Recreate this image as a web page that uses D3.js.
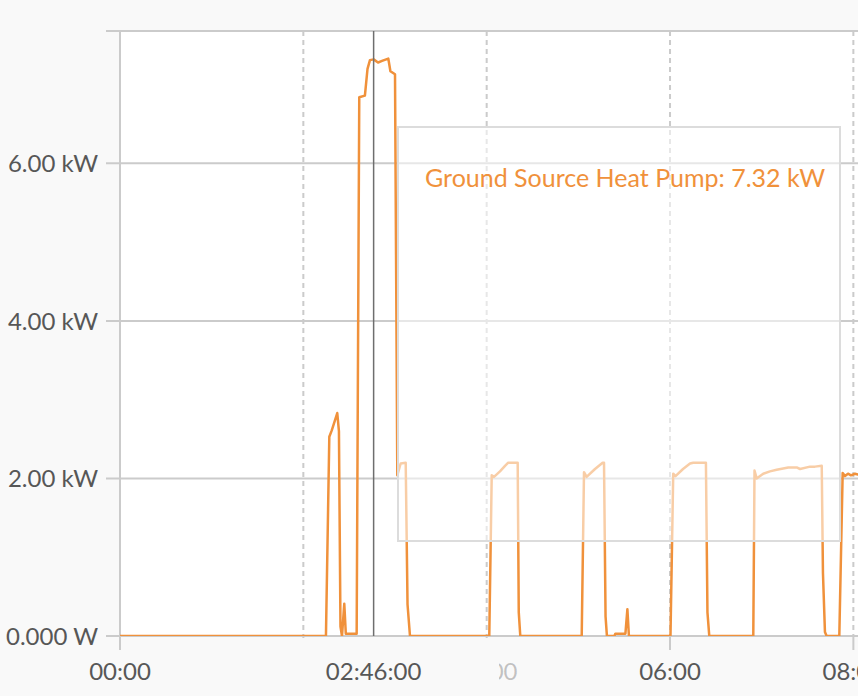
<!DOCTYPE html>
<html>
<head>
<meta charset="utf-8">
<script src="https://cdn.jsdelivr.net/npm/d3@7"></script>
<style>
  html, body { margin: 0; padding: 0; background: #f9f9f9; }
  svg { display: block; }
  text { font-family: "Lato", "Open Sans", sans-serif; }
</style>
</head>
<body>
<div id="chart"></div>
<script>
// ---- Data (minutes since 00:00, power in kW) ----
const times = [0, 134.8, 137.0, 138.6, 142.2, 143.3, 144.3, 145.3, 146.8, 147.8, 154.9, 156.6, 160.3, 162.0, 163.6, 166.0, 168.9, 171.5, 175.6, 177.0, 180.0, 181.5, 183.7, 187.0, 188.2, 189.8,
  241.7, 243.3, 244.8, 248.7, 252.0, 254.1, 260.3, 261.0, 262.0,
  302.2, 303.7, 305.4, 310.9, 315.9, 316.8, 317.8, 318.7,
  323.6, 324.2, 330.8, 332.1, 333.1,
  360.3, 362.1, 363.6, 368.5, 373.1, 375.2, 383.5, 384.5, 385.7,
  414.5, 415.3, 416.7, 421.0, 425.4, 429.8, 437.4, 442.9, 445.1, 451.6, 454.9, 459.3, 460.1, 461.4, 462.5,
  470.8, 473.0, 474.5, 476.5, 478.4, 481.1, 483.0, 487.6];
const values = [0, 0, 2.53, 2.61, 2.83, 2.6, 0.12, 0, 0.41, 0.03, 0.03, 6.84, 6.86, 7.2, 7.31, 7.32, 7.28, 7.3, 7.33, 7.17, 7.13, 2.04, 2.19, 2.2, 0.4, 0,
  0, 2.04, 2.02, 2.09, 2.16, 2.2, 2.2, 0.3, 0,
  0, 2.08, 2.02, 2.12, 2.2, 2.2, 0.25, 0,
  0, 0.03, 0.03, 0.34, 0,
  0, 2.06, 2.03, 2.12, 2.19, 2.2, 2.2, 0.3, 0,
  0, 2.1, 2.0, 2.06, 2.09, 2.11, 2.14, 2.14, 2.12, 2.15, 2.15, 2.16, 0.8, 0.05, 0,
  0, 2.07, 2.03, 2.06, 2.04, 2.06, 2.05, 2.07];

const yTickValues = [0, 2, 4, 6];
const yTickLabels = ["0.000 W", "2.00 kW", "4.00 kW", "6.00 kW"];
const xTickMinutes = [0, 120, 240, 360, 480];
const xTickLabels = ["00:00", "02:00", "04:00", "06:00", "08:00"];
const hoverMinute = 166;
const hoverLabel = "02:46:00";
const tooltipText = "Ground Source Heat Pump: 7.32 kW";

// ---- Layout ----
const W = 858, H = 696;
const plotLeft = 120, plotTop = 31, plotBottom = 636;
const orange = "#f0913b";
const gridCol = "#cbcbcb";
const labelCol = "#575757";

const x = d3.scaleLinear().domain([0, 510]).range([plotLeft, plotLeft + 8.5 * 91.67]);
const y = d3.scaleLinear().domain([0, 7.68]).range([plotBottom, plotTop]);

const svg = d3.select("#chart").append("svg").attr("width", W).attr("height", H);
svg.append("rect").attr("width", W).attr("height", H).attr("fill", "#f9f9f9");
svg.append("rect").attr("x", plotLeft).attr("y", plotTop).attr("width", W - plotLeft).attr("height", plotBottom - plotTop).attr("fill", "#ffffff");

svg.append("defs").append("clipPath").attr("id", "plotclip")
  .append("rect").attr("x", plotLeft).attr("y", plotTop - 5).attr("width", W - plotLeft).attr("height", plotBottom - plotTop + 5);

// vertical dashed grid
svg.append("g").selectAll("line").data(xTickMinutes.slice(1)).join("line")
  .attr("x1", d => x(d)).attr("x2", d => x(d)).attr("y1", plotTop).attr("y2", plotBottom)
  .attr("stroke", gridCol).attr("stroke-width", 2).attr("stroke-dasharray", "5,4");

// horizontal grid with left ticks
svg.append("g").selectAll("line").data(yTickValues).join("line")
  .attr("x1", 106).attr("x2", W).attr("y1", d => y(d)).attr("y2", d => y(d))
  .attr("stroke", gridCol).attr("stroke-width", 2);
// top frame
svg.append("line").attr("x1", 106).attr("x2", W).attr("y1", plotTop).attr("y2", plotTop)
  .attr("stroke", gridCol).attr("stroke-width", 2);
// left axis
svg.append("line").attr("x1", plotLeft).attr("x2", plotLeft).attr("y1", plotTop).attr("y2", 650)
  .attr("stroke", gridCol).attr("stroke-width", 2);
// bottom ticks
svg.append("g").selectAll("line").data(xTickMinutes.slice(1)).join("line")
  .attr("x1", d => x(d)).attr("x2", d => x(d)).attr("y1", plotBottom).attr("y2", 650)
  .attr("stroke", gridCol).attr("stroke-width", 2);

// y labels
svg.append("g").selectAll("text").data(yTickValues).join("text")
  .attr("x", 98).attr("y", d => y(d) + 9).attr("text-anchor", "end")
  .attr("font-size", 24).attr("fill", labelCol)
  .text((d, i) => yTickLabels[i]);

// x labels (the 02:00 label sits fully under the hover label, so it is not visible)
const xLabelIdx = xTickMinutes.map((d, i) => i).filter(i => xTickLabels[i] !== "02:00");
svg.append("g").selectAll("text").data(xLabelIdx).join("text")
  .attr("x", i => x(xTickMinutes[i])).attr("y", 680).attr("text-anchor", "middle")
  .attr("font-size", 24).attr("fill", labelCol)
  .attr("fill-opacity", i => i === 2 ? 0.35 : 1)
  .text(i => xTickLabels[i]);

// line
const line = d3.line().x((d, i) => x(times[i])).y(d => y(d));
svg.append("path").datum(values).attr("clip-path", "url(#plotclip)")
  .attr("d", line).attr("fill", "none").attr("stroke", orange)
  .attr("stroke-width", 2.5).attr("stroke-linejoin", "round");

// crosshair
svg.append("line").attr("x1", x(hoverMinute)).attr("x2", x(hoverMinute))
  .attr("y1", plotTop).attr("y2", plotBottom).attr("stroke", "#6e6e6e").attr("stroke-width", 1.5);

// hover x label background covering nearby ticks
svg.append("rect").attr("x", 252).attr("y", 638).attr("width", 247).attr("height", 58)
  .attr("fill", "#f9f9f9");
svg.append("text").attr("x", x(hoverMinute)).attr("y", 680).attr("text-anchor", "middle")
  .attr("font-size", 24).attr("fill", labelCol).text(hoverLabel);

// tooltip
svg.append("rect").attr("x", 398).attr("y", 127).attr("width", 442).attr("height", 414)
  .attr("fill", "#ffffff").attr("fill-opacity", 0.55)
  .attr("stroke", "#dcdcdc").attr("stroke-width", 2);
svg.append("text").attr("x", 425).attr("y", 187).attr("font-size", 25)
  .attr("fill", orange).text(tooltipText);
</script>
</body>
</html>
